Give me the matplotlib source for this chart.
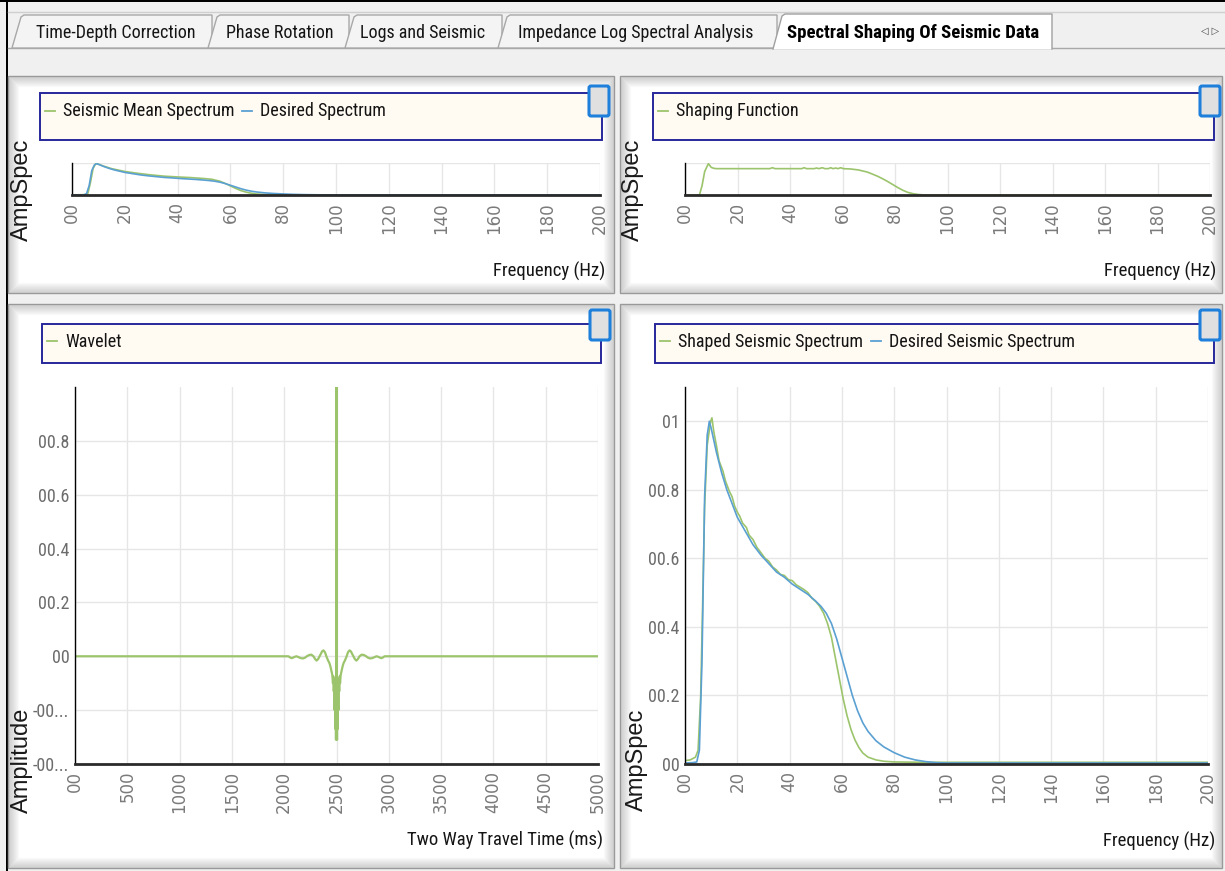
import matplotlib
matplotlib.use("Agg")
import matplotlib.pyplot as plt
from matplotlib import font_manager
from matplotlib.patches import Rectangle, Polygon, FancyBboxPatch
import numpy as np

# ---------------------------------------------------------------- data
tab_labels = ["Time-Depth Correction", "Phase Rotation", "Logs and Seismic",
              "Impedance Log Spectral Analysis", "Spectral Shaping Of Seismic Data"]
active_tab = 4

# Spectra, amplitude normalised to the peak
desired_freq = [0, 3, 4.5, 5.5, 6.5, 7.5, 8.5, 9.3, 10, 12, 14, 16, 18, 20, 23, 26, 29, 32,
                35, 38, 41, 44, 47, 50, 52, 54, 56, 58, 60, 62, 64, 66, 68, 70, 73, 76, 80,
                84, 88, 92, 96, 100, 200]
desired_amp = [0.003, 0.004, 0.006, 0.04, 0.30, 0.78, 0.96, 1.0, 0.98, 0.91, 0.85, 0.80,
               0.76, 0.72, 0.68, 0.64, 0.61, 0.585, 0.56, 0.545, 0.525, 0.51, 0.495, 0.475,
               0.46, 0.44, 0.41, 0.365, 0.31, 0.255, 0.20, 0.155, 0.12, 0.095, 0.068, 0.05,
               0.033, 0.02, 0.012, 0.007, 0.004, 0.003, 0.003]

mean_freq = [0, 5, 6, 7, 8, 9, 10, 12, 15, 20, 25, 30, 35, 40, 45, 50, 53, 56, 58, 60, 62,
             64, 66, 68, 70, 73, 76, 80, 200]
mean_amp = [0.005, 0.01, 0.05, 0.4, 0.85, 1.0, 0.98, 0.92, 0.84, 0.75, 0.69, 0.64, 0.60,
            0.575, 0.555, 0.525, 0.5, 0.44, 0.37, 0.29, 0.21, 0.14, 0.09, 0.055, 0.032,
            0.015, 0.008, 0.005, 0.005]

shaping_freq = [0, 5.5, 6.5, 7.5, 8.9, 10, 11, 12, 32.3, 33.3, 34.3, 44.5, 45.4, 46.3,
                49.2, 50.1, 51, 52.3, 53.3, 54.6, 55.5, 56.4, 57.4, 58.3, 59.3, 60.3, 63,
                66, 69.5, 71, 73.3, 75, 77, 79, 81, 83, 85, 87, 89, 91, 200]
shaping_amp = [0, 0, 0.3, 0.75, 1.0, 0.88, 0.85, 0.84, 0.84, 0.87, 0.84, 0.84, 0.87, 0.84,
               0.84, 0.86, 0.84, 0.87, 0.84, 0.84, 0.87, 0.84, 0.86, 0.84, 0.87, 0.84,
               0.83, 0.80, 0.73, 0.68, 0.60, 0.53, 0.44, 0.34, 0.24, 0.15, 0.08, 0.04,
               0.015, 0.003, 0.0]

shaped_freq = [0, 2, 4, 5, 6, 6.7, 7.5, 8.5, 9.8, 10.3, 11, 12, 13, 14.5, 15.5, 17, 18, 19,
               20, 21, 22, 23.5, 24.5, 26, 27.5, 29, 30.5, 32, 33.5, 35, 36.5, 38, 39.5, 41,
               42.5, 44, 45.5, 47, 48.5, 50, 51.5, 53, 54.5, 56, 57.5, 59, 60.5, 62, 63.5,
               65, 66.5, 68, 70, 73, 76, 80, 90, 200]
shaped_amp = [0.010, 0.012, 0.02, 0.04, 0.2, 0.45, 0.75, 0.93, 1.0, 1.01, 0.97, 0.93,
              0.885, 0.855, 0.825, 0.795, 0.78, 0.752, 0.735, 0.722, 0.703, 0.69, 0.668,
              0.655, 0.632, 0.617, 0.601, 0.592, 0.575, 0.566, 0.553, 0.55, 0.538, 0.535,
              0.523, 0.516, 0.509, 0.5, 0.484, 0.474, 0.46, 0.44, 0.41, 0.37, 0.31, 0.25,
              0.19, 0.14, 0.10, 0.07, 0.048, 0.032, 0.02, 0.012, 0.008, 0.006, 0.005, 0.005]

# Zero-phase wavelet
wavelet_time_ms = [0, 2040, 2055, 2070, 2085, 2100, 2118, 2135, 2160, 2180, 2200, 2220,
                   2240, 2260, 2280, 2295, 2310, 2325, 2345, 2362, 2375, 2390, 2405, 2420,
                   2432, 2440, 2452, 2460, 2466, 2470, 2474, 2478, 2482, 2486, 2489, 2492,
                   2495, 2497, 2500, 2503, 2505, 2508, 2511, 2514, 2518, 2522, 2526, 2530,
                   2534, 2540, 2548, 2560, 2568, 2580, 2595, 2610, 2625, 2638, 2655, 2675,
                   2690, 2705, 2720, 2740, 2760, 2780, 2800, 2820, 2840, 2865, 2882, 2900,
                   2915, 2930, 2945, 2960, 5000]
wavelet_amp = [0, 0, -0.004, -0.007, -0.005, -0.002, 0.0, -0.003, -0.007, -0.008, -0.005,
               0.001, 0.005, 0.006, 0.0, -0.01, -0.016, -0.01, 0.005, 0.018, 0.022, 0.015,
               -0.002, -0.016, -0.025, -0.035, -0.055, -0.07, -0.10, -0.075, -0.13, -0.085,
               -0.20, -0.09, -0.27, -0.10, -0.31, -0.12, 1.0, -0.12, -0.31, -0.10, -0.27,
               -0.09, -0.20, -0.085, -0.13, -0.075, -0.10, -0.07, -0.055, -0.035, -0.025,
               -0.016, -0.002, 0.015, 0.022, 0.018, 0.005, -0.01, -0.016, -0.01, 0.0, 0.006,
               0.005, 0.001, -0.005, -0.008, -0.007, -0.003, 0.0, -0.002, -0.005, -0.007,
               -0.004, 0, 0]

freq_ticks = [0, 20, 40, 60, 80, 100, 120, 140, 160, 180, 200]
freq_tick_labels = ["00", "20", "40", "60", "80", "100", "120", "140", "160", "180", "200"]
time_ticks = [0, 500, 1000, 1500, 2000, 2500, 3000, 3500, 4000, 4500, 5000]
time_tick_labels = ["00", "500", "1000", "1500", "2000", "2500", "3000", "3500", "4000",
                    "4500", "5000"]
wavelet_amp_ticks = [-0.4, -0.2, 0.0, 0.2, 0.4, 0.6, 0.8]
wavelet_amp_labels = ["-00...", "-00...", "00", "00.2", "00.4", "00.6", "00.8"]
spec_amp_ticks = [0.0, 0.2, 0.4, 0.6, 0.8, 1.0]
spec_amp_labels = ["00", "00.2", "00.4", "00.6", "00.8", "01"]

# ---------------------------------------------------------------- style
GREEN = "#9cc46c"
BLUE = "#5aa0d2"
GRID = "#e6e6e6"
TICK_GRAY = "#7a7a7a"


def first_installed(candidates):
    for fam in candidates:
        try:
            font_manager.findfont(font_manager.FontProperties(family=fam),
                                  fallback_to_default=False)
            return fam
        except ValueError:
            continue
    return None


# UI text is set in a condensed face; scale a regular face down if none is present
narrow_face = first_installed(["Liberation Sans Narrow", "Arial Narrow", "Roboto Condensed",
                               "Open Sans Condensed", "DejaVu Sans Condensed"])
if narrow_face is None:
    NARROW = ["Liberation Sans", "DejaVu Sans"]
    UI_SIZE, TICK_SIZE = 11.0, 11.0
else:
    NARROW = [narrow_face, "Liberation Sans", "DejaVu Sans"]
    UI_SIZE, TICK_SIZE = 13.0, 13.0
SANS = ["Liberation Sans", "DejaVu Sans"]

W, H = 1225, 871
fig = plt.figure(figsize=(W / 100, H / 100), dpi=100)
fig.patch.set_facecolor("#f0f0f0")


def frac(l, t, r, b):
    return [l / W, 1 - b / H, (r - l) / W, (b - t) / H]


# Window chrome drawn in pixel units
bg = fig.add_axes([0, 0, 1, 1])
bg.set_xlim(0, W)
bg.set_ylim(H, 0)
bg.axis("off")
bg.set_zorder(-5)

bg.add_patch(Rectangle((0, 0), W, 2, fc="black", ec="none"))
bg.add_patch(Rectangle((6, 0), 2, H, fc="black", ec="none"))
bg.plot([8, W], [12, 12], color="#cfcfcf", lw=1)

# tab strip
tab_spans = [(12, 212), (208, 349), (345, 502), (498, 777), (773, 1052)]
tab_centers = [116, 280, 423, 636, 913]
bg.plot([8, W], [48, 48], color="#a8a8a8", lw=1, zorder=1)
for i, (label, (x0, x1), xc) in enumerate(zip(tab_labels, tab_spans, tab_centers)):
    if i == active_tab:
        continue
    bg.add_patch(Polygon([(x0, 48), (x0 + 9, 17), (x0 + 12, 15), (x1, 15), (x1, 48)],
                         closed=True, fc="#f4f4f4", ec="#a8a8a8", lw=1, zorder=2))
    bg.text(xc, 33, label, fontsize=UI_SIZE, family=NARROW, color="#151515",
            ha="center", va="center", zorder=3)
x0, x1 = tab_spans[active_tab]
bg.add_patch(Polygon([(x0, 49), (x0 + 9, 16), (x0 + 12, 14), (x1, 14), (x1, 49)],
                     closed=True, fc="white", ec="none", zorder=4))
bg.plot([x0, x0 + 9, x0 + 12, x1, x1], [49, 16, 14, 14, 49], color="#a0a0a0", lw=1,
        zorder=5)
bg.text(tab_centers[active_tab], 33, tab_labels[active_tab], fontsize=UI_SIZE + 0.5,
        family=NARROW, weight="bold", color="black", ha="center", va="center", zorder=6)
bg.text(1210, 31, "\u25c1 \u25b7", fontsize=7, family="DejaVu Sans", color="#444",
        ha="center", va="center")


def panel(l, t, r, b):
    bg.add_patch(Rectangle((l, t), r - l, b - t, fc="white", ec="#9a9a9a", lw=1))
    for k, a in enumerate(np.linspace(0.32, 0.0, 11)):
        bg.add_patch(Rectangle((l + 1 + k, t + 1 + k), r - l - 2 - 2 * k, b - t - 2 - 2 * k,
                               fc="none", ec=(0.55, 0.55, 0.55, a), lw=1))


def legend_box(l, t, r, b, entries, check):
    bg.add_patch(Rectangle((l, t), r - l, b - t, fc="#fffaf2", ec="#27279a", lw=1.4,
                           zorder=2))
    yc = (t + b) / 2 - 5 if b - t > 42 else (t + b) / 2 - 2
    x = l + 5
    for label, color, width in entries:
        bg.plot([x, x + 10], [yc, yc], color=color, lw=1.3, zorder=3)
        bg.text(x + 18, yc, label, fontsize=UI_SIZE, family=NARROW, color="#141414",
                ha="left", va="center", zorder=3)
        x += width
    cl, ct, cr, cb = check
    bg.add_patch(FancyBboxPatch((cl, ct), cr - cl, cb - ct,
                                boxstyle="round,pad=0,rounding_size=2",
                                fc="#e0e0e0", ec="#1f80dc", lw=2.2, zorder=4))


panel(8, 76, 614, 293)
panel(620, 76, 1222, 293)
panel(8, 304, 614, 868)
panel(620, 304, 1222, 868)

legend_box(40, 93, 602, 140, [("Seismic Mean Spectrum", GREEN, 197),
                              ("Desired Spectrum", BLUE, 0)], (589, 86, 609, 116))
legend_box(653, 93, 1214, 140, [("Shaping Function", GREEN, 0)], (1200, 86, 1220, 116))
legend_box(42, 324, 601, 363, [("Wavelet", GREEN, 0)], (590, 310, 610, 340))
legend_box(655, 324, 1214, 363, [("Shaped Seismic Spectrum", GREEN, 211),
                                 ("Desired Seismic Spectrum", BLUE, 0)],
           (1200, 310, 1220, 340))

# axis titles
for x, y, s in [(605, 271, "Frequency (Hz)"), (1216, 271, "Frequency (Hz)"),
                (603, 840, "Two Way Travel Time (ms)"), (1215, 841, "Frequency (Hz)")]:
    bg.text(x, y, s, fontsize=UI_SIZE + 0.5, family=NARROW, color="#151515", ha="right",
            va="center")
for x, y, s in [(22, 190, "AmpSpec"), (633, 190, "AmpSpec"), (22, 760, "Amplitude"),
                (637, 760, "AmpSpec")]:
    bg.text(x, y, s, fontsize=17, family=SANS, color="#1a1a1a", rotation=90,
            ha="center", va="center")


def make_axes(box, xlim, ylim, xticks, xlabels, yticks, ylabels):
    ax = fig.add_axes(frac(*box))
    ax.set_facecolor("none")
    ax.set_xlim(*xlim)
    ax.set_ylim(*ylim)
    for s in ("top", "right"):
        ax.spines[s].set_visible(False)
    ax.spines["left"].set_color("black")
    ax.spines["left"].set_linewidth(1.0)
    ax.spines["bottom"].set_color("#2a2a2a")
    ax.spines["bottom"].set_linewidth(2.0)
    ax.set_xticks(xticks)
    ax.set_xticklabels(xlabels, rotation=90, ha="center", va="top", family="DejaVu Sans",
                       fontsize=12, color=TICK_GRAY)
    ax.set_yticks(yticks)
    if ylabels is None:
        ax.set_yticklabels([])
    else:
        ax.set_yticklabels(ylabels, family=NARROW, fontsize=TICK_SIZE, color="#6c6c6c")
    ax.tick_params(axis="x", length=0, pad=5)
    ax.tick_params(axis="y", length=0, pad=4)
    ax.grid(True, color=GRID, lw=1)
    ax.set_axisbelow(True)
    return ax


ax_tl = make_axes((72, 163, 600, 195), (0, 200), (0, 1.02), freq_ticks, freq_tick_labels,
                  [1.02], None)
ax_tl.plot(mean_freq, mean_amp, color=GREEN, lw=1.2, label="Seismic Mean Spectrum")
ax_tl.plot(desired_freq, desired_amp, color=BLUE, lw=1.2, label="Desired Spectrum")

ax_tr = make_axes((685, 163, 1210, 195), (0, 200), (0, 1.02), freq_ticks,
                  freq_tick_labels, [1.02], None)
ax_tr.plot(shaping_freq, shaping_amp, color=GREEN, lw=1.2, label="Shaping Function")

ax_bl = make_axes((75, 387, 598, 764), (0, 5000), (-0.4, 1.0), time_ticks,
                  time_tick_labels, wavelet_amp_ticks, wavelet_amp_labels)
ax_bl.plot(wavelet_time_ms, wavelet_amp, color=GREEN, lw=1.6, label="Wavelet")

ax_br = make_axes((685, 387, 1208, 764), (0, 200), (0, 1.1), freq_ticks, freq_tick_labels,
                  spec_amp_ticks, spec_amp_labels)
ax_br.plot(shaped_freq, shaped_amp, color=GREEN, lw=1.2, label="Shaped Seismic Spectrum")
ax_br.plot(desired_freq, desired_amp, color=BLUE, lw=1.2, label="Desired Seismic Spectrum")

fig.savefig("out.png", dpi=100, facecolor=fig.get_facecolor())
